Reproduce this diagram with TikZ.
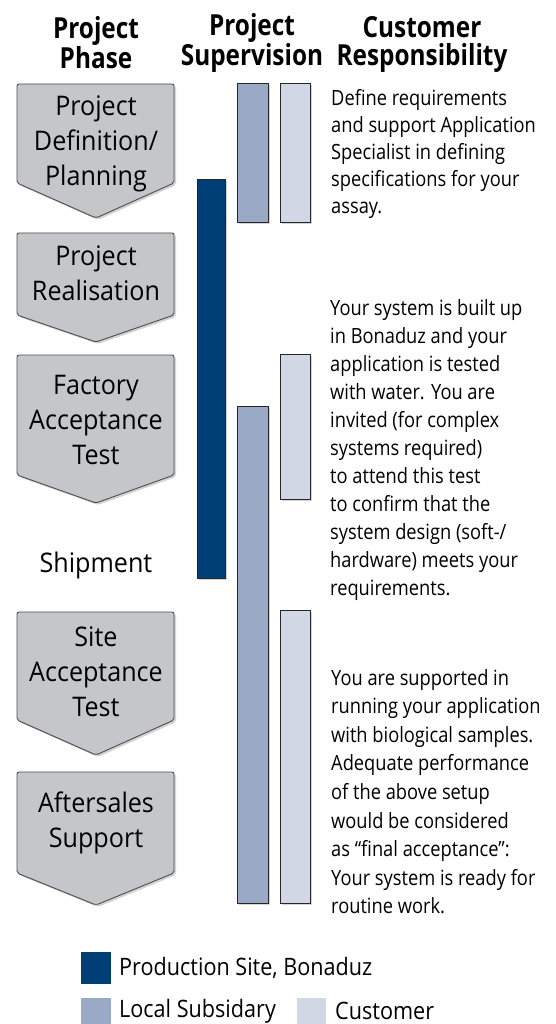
\documentclass[tikz,border=0pt]{standalone}
\usepackage{fontspec}
\setmainfont{Open Sans}
\newfontfamily\headfont[FakeStretch=0.84]{Open Sans}
\newfontfamily\bodyfont[FakeStretch=0.87]{Open Sans}
\newfontfamily\legendfont[FakeStretch=0.9]{Open Sans}
\newfontfamily\phasefont[FakeStretch=0.93]{Open Sans}
\usetikzlibrary{shadows}
\definecolor{darkblue}{HTML}{003F75}
\definecolor{midblue}{HTML}{9AAAC6}
\definecolor{lightblue}{HTML}{D1D7E5}
\definecolor{phasegray}{HTML}{C5C6C9}
\definecolor{edgegray}{HTML}{4D4D4D}
\tikzset{
  phase/.style={draw=edgegray, line width=0.9pt, fill=phasegray, rounded corners=2pt,
    drop shadow={shadow xshift=2pt, shadow yshift=-2pt, opacity=0.35}},
  phasetext/.style={font=\phasefont\fontsize{27}{35}\selectfont, align=center, inner sep=0pt},
  heading/.style={font=\headfont\bfseries\fontsize{29}{28}\selectfont, align=center, inner sep=0pt, anchor=north},
  bodytext/.style={font=\bodyfont\fontsize{21}{28}\selectfont, align=left, inner sep=0pt, anchor=north west},
  legendtext/.style={font=\legendfont\fontsize{24}{28}\selectfont, inner sep=0pt, anchor=west},
  bar/.style={draw=black!85, line width=0.8pt,
    drop shadow={shadow xshift=2pt, shadow yshift=-2pt, opacity=0.35}},
}
\newcommand\phasebox[6]{%
  \draw[phase] (17,#2) -- (174,#2) -- (174,#3) -- (96,#4) -- (17,#3) -- cycle;
  \node[phasetext] (#1) at (96,#5) {#6};
}
\begin{document}
\begin{tikzpicture}[x=1pt,y=-1pt]
\useasboundingbox (0,0) rectangle (555,1024);
% headings
\node[heading] (h1) at (96,16) {Project\\Phase};
\node[heading] (h2) at (252,13) {Project\\Supervision};
\node[heading] (h3) at (422,16) {Customer\\Responsibility};
% phases
\phasebox{p1}{84}{183}{218}{144}{Project\\Definition/\\Planning}
\phasebox{p2}{233}{315}{342}{273}{Project\\Realisation}
\phasebox{p3}{355}{475}{503}{420}{Factory\\Acceptance\\Test}
\node[font=\phasefont\fontsize{27}{35}\selectfont, inner sep=0pt] (ship) at (96,565) {Shipment};
\phasebox{p4}{612}{720}{755}{672}{Site\\Acceptance\\Test}
\phasebox{p5}{772}{873}{905}{823}{Aftersales\\Support}
% bars
\draw[bar, fill=darkblue] (197,179) rectangle (225,578);
\draw[bar, fill=midblue] (237,83) rectangle (268,222);
\draw[bar, fill=lightblue] (280,83) rectangle (310,222);
\draw[bar, fill=midblue] (237,406) rectangle (268,903);
\draw[bar, fill=lightblue] (280,354) rectangle (310,499);
\draw[bar, fill=lightblue] (280,610) rectangle (310,903);
% texts
\node[bodytext, font=\bodyfont\fontsize{21}{27}\selectfont] (t1) at (331,89) {Define requirements\\and support Application\\Specialist in defining\\specifications for your\\assay.};
\node[bodytext] (t2) at (330,299) {Your system is built up\\in Bonaduz and your\\application is tested\\with water. You are\\invited (for complex\\systems required)\\to attend this test\\to confirm that the\\system design (soft-/\\hardware) meets your\\requirements.};
\node[bodytext, font=\bodyfont\fontsize{21}{28.6}\selectfont] (t3) at (331,669) {You are supported in\\running your application\\with biological samples.\\Adequate performance\\of the above setup\\would be considered\\as “final acceptance”:\\Your system is ready for\\routine work.};
% legend
\fill[darkblue] (81,952) rectangle (111,984);
\node[legendtext] (l1) at (119,968) {Production Site, Bonaduz};
\fill[midblue] (81,998) rectangle (111,1026);
\node[legendtext] (l2) at (119,1011) {Local Subsidary};
\fill[lightblue] (297,998) rectangle (326,1026);
\node[legendtext] (l3) at (335,1011) {Customer};
\end{tikzpicture}
\end{document}
